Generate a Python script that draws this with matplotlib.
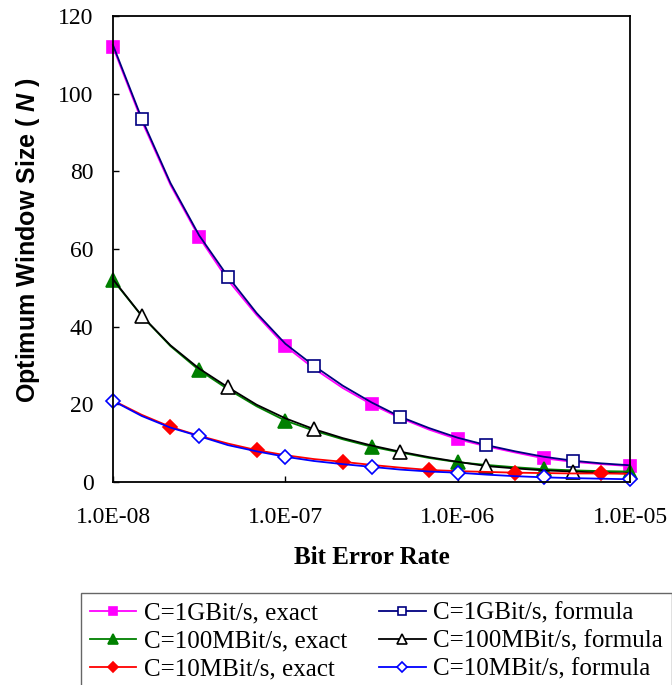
import numpy as np
import matplotlib
matplotlib.use("Agg")
import matplotlib.pyplot as plt

# Bit error rate samples (1/6 decade spacing, from 1e-8 to 1e-5)
ber_exponents = [-8 + k / 6 for k in range(19)]
ber = [10 ** e for e in ber_exponents]

gbit_exact = [112, 93, 76.5, 63, 52, 43, 35, 29.2, 24.2, 20, 16.5, 13.5, 11, 9.2, 7.6, 6.1, 5.2, 4.6, 4.1]
gbit_formula = [112.5, 93.6, 77, 63.5, 52.9, 43.5, 35.6, 29.9, 24.8, 20.5, 16.8, 13.9, 11.4, 9.5, 7.9, 6.5, 5.5, 4.8, 4.3]
mbit100_exact = [52, 42.8, 35, 28.8, 23.9, 19.5, 15.8, 13.2, 11, 9.1, 7.6, 6.2, 5.1, 4.4, 3.8, 3.3, 3.0, 2.8, 2.7]
mbit100_formula = [52.2, 42.8, 35.2, 29.2, 24.4, 19.9, 16.4, 13.6, 11.3, 9.4, 7.8, 6.4, 5.2, 4.1, 3.5, 3.0, 2.7, 2.4, 2.2]
mbit10_exact = [21, 17.3, 14.2, 11.9, 9.9, 8.2, 6.9, 5.9, 5.2, 4.4, 3.7, 3.1, 2.8, 2.6, 2.4, 2.3, 2.2, 2.2, 2.1]
mbit10_formula = [20.9, 17, 14, 11.8, 9.5, 7.9, 6.5, 5.4, 4.6, 3.9, 3.2, 2.7, 2.4, 1.9, 1.5, 1.2, 1.0, 0.85, 0.7]

labels = ["C=1GBit/s, exact", "C=1GBit/s, formula",
          "C=100MBit/s, exact", "C=100MBit/s, formula",
          "C=10MBit/s, exact", "C=10MBit/s, formula"]
x_ticks = [1e-8, 1e-7, 1e-6, 1e-5]
x_tick_labels = ["1.0E-08", "1.0E-07", "1.0E-06", "1.0E-05"]
y_ticks = [0, 20, 40, 60, 80, 100, 120]

plt.rcParams['font.family'] = ['Liberation Serif', 'DejaVu Serif']
plt.rcParams['mathtext.fontset'] = 'custom'
plt.rcParams['mathtext.it'] = 'Liberation Sans:italic:bold'
plt.rcParams['mathtext.rm'] = 'Liberation Sans:bold'

fig = plt.figure(figsize=(6.72, 6.85), dpi=100)
ax = fig.add_axes([113 / 672, 1 - 482 / 685, (630 - 113) / 672, (482 - 16) / 685])

series = [
    (gbit_exact, dict(color='#FF00FF', marker='s', mfc='#FF00FF', mec='#FF00FF', ms=8.5, markevery=(0, 3))),
    (gbit_formula, dict(color='#000080', marker='s', mfc='white', mec='#000080', ms=8, markevery=(1, 3))),
    (mbit100_exact, dict(color='#008000', marker='^', mfc='#008000', mec='#008000', ms=9.5, markevery=(0, 3))),
    (mbit100_formula, dict(color='black', marker='^', mfc='white', mec='black', ms=9.5, markevery=(1, 3))),
    (mbit10_exact, dict(color='#FF0000', marker='D', mfc='#FF0000', mec='#FF0000', ms=7.5, markevery=(2, 3))),
    (mbit10_formula, dict(color='#0000FF', marker='D', mfc='white', mec='#0000FF', ms=7.5, markevery=(0, 3))),
]
handles = []
for (vals, kw), lab in zip(series, labels):
    h, = ax.plot(ber, vals, lw=1.3, mew=1.2, label=lab, clip_on=False, **kw)
    handles.append(h)

ax.set_xscale('log')
ax.set_xlim(1e-8, 1e-5)
ax.set_ylim(0, 120)
ax.set_xticks(x_ticks)
ax.set_xticklabels(x_tick_labels)
ax.xaxis.set_minor_locator(matplotlib.ticker.NullLocator())
ax.set_yticks(y_ticks)
ax.tick_params(direction='in', length=4, width=1, labelsize=17, colors='black')
ax.tick_params(axis='y', pad=14)
ax.tick_params(axis='x', pad=18)
for s in ax.spines.values():
    s.set_linewidth(1.3)
    s.set_color('black')

fig.text(28 / 672, 1 - 240 / 685, "Optimum Window Size ( $\\mathit{N}$ )", rotation=90,
         ha='center', va='center', fontsize=18, fontweight='bold', family='Liberation Sans')
fig.text(372 / 672, 1 - 557 / 685, "Bit Error Rate", ha='center', va='center',
         fontsize=18, fontweight='bold')

order = [0, 2, 4, 1, 3, 5]
leg = fig.legend([handles[i] for i in order], [labels[i] for i in order],
                 loc='upper left', bbox_to_anchor=(81 / 672, 1 - 593 / 685), ncol=2,
                 fontsize=18, frameon=True, fancybox=False, edgecolor='#404040',
                 handlelength=1.85, handletextpad=0.3, columnspacing=1.3,
                 labelspacing=0.22, borderpad=0.35, markerscale=0.7, borderaxespad=0)
leg.get_frame().set_linewidth(1.0)

fig.savefig("out.png", dpi=100)
